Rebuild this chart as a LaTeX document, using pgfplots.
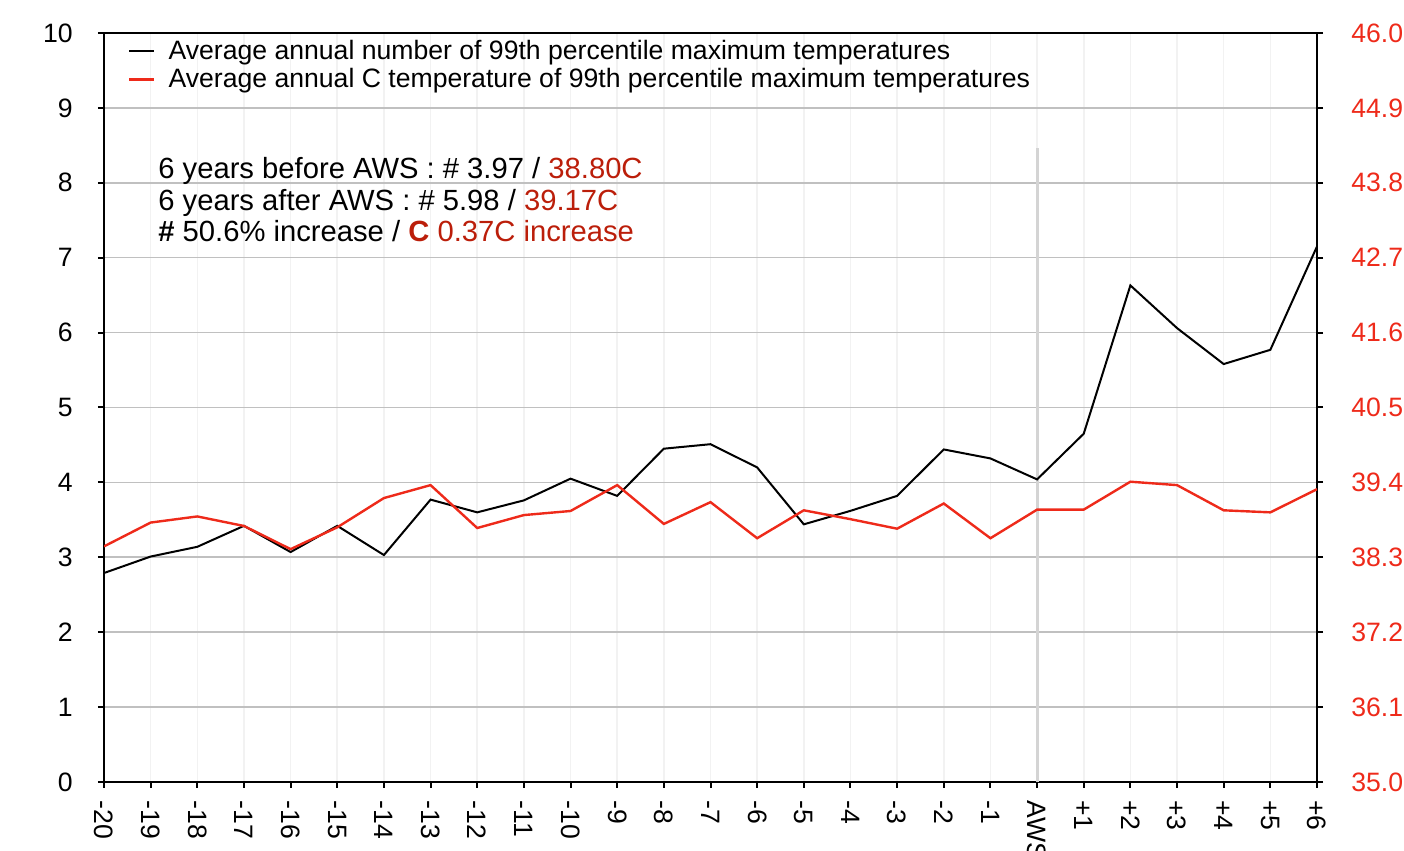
\documentclass[border=0pt]{standalone}
\usepackage{pgfplots}
\pgfplotsset{compat=1.18}
\usepackage{fontspec}
\setmainfont{Liberation Sans}
\definecolor{myred}{HTML}{EE2A1A}
\definecolor{darkred}{HTML}{BB1E0A}
\definecolor{gridgray}{HTML}{C0C0C0}
\definecolor{vgrid}{HTML}{F2F2F2}
\definecolor{awsgray}{HTML}{D4D4D4}
\pgfplotstableread{
x y
0 2.79
1 3.01
2 3.14
3 3.42
4 3.07
5 3.42
6 3.03
7 3.77
8 3.60
9 3.76
10 4.05
11 3.82
12 4.45
13 4.51
14 4.20
15 3.44
16 3.62
17 3.82
18 4.44
19 4.32
20 4.04
21 4.65
22 6.63
23 6.06
24 5.58
25 5.77
26 7.15
}\blackdata
\pgfplotstableread{
x y
0 38.46
1 38.81
2 38.90
3 38.76
4 38.42
5 38.74
6 39.17
7 39.36
8 38.73
9 38.92
10 38.98
11 39.36
12 38.79
13 39.11
14 38.58
15 38.99
16 38.86
17 38.72
18 39.09
19 38.58
20 39.00
21 39.00
22 39.41
23 39.36
24 38.99
25 38.96
26 39.30
}\reddata
\begin{document}
\begin{tikzpicture}
\begin{axis}[name=main,
  scale only axis, width=606.5pt, height=374.5pt,
  xmin=0, xmax=26, ymin=0, ymax=10,
  xtick={0,...,26},
  xticklabels={-20,-19,-18,-17,-16,-15,-14,-13,-12,-11,-10,-9,-8,-7,-6,-5,-4,-3,-2,-1,AWS,+1,+2,+3,+4,+5,+6},
  ytick={0,...,10},
  tick align=outside, xtick pos=bottom, ytick pos=left,
  major tick length=3pt,
  axis line style={line width=1pt},
  tick style={line width=1pt, black},
  xmajorgrids, ymajorgrids,
  x grid style={vgrid, line width=0.8pt},
  y grid style={gridgray, line width=0.8pt},
  /pgf/number format/assume math mode=true,
  xticklabel style={font=\fontsize{13.3}{15}\selectfont, rotate=-90, anchor=west, inner sep=1pt, xshift=5pt},
  yticklabel style={font=\fontsize{13.3}{15}\selectfont, inner sep=0pt, xshift=-12.5pt},
]
\addplot[awsgray, line width=1.5pt, forget plot] coordinates {(20,0) (20,8.46)};
\addplot[black, line width=1pt] table[x=x,y=y] {\blackdata};
\node[anchor=base west, font=\fontsize{14.6}{16}\selectfont, inner sep=0pt] at (rel axis cs:0.0445,0.806) {6 years before AWS : \# 3.97 / \textcolor{darkred}{38.80C}};
\node[anchor=base west, font=\fontsize{14.6}{16}\selectfont, inner sep=0pt] at (rel axis cs:0.0445,0.7635) {6 years after AWS : \# 5.98 / \textcolor{darkred}{39.17C}};
\node[anchor=base west, font=\fontsize{14.6}{16}\selectfont, inner sep=0pt] at (rel axis cs:0.0445,0.721) {\textbf{\#} 50.6\% increase / \textcolor{darkred}{\textbf{C} 0.37C increase}};
\end{axis}
\begin{axis}[
  scale only axis, width=606.5pt, height=374.5pt,
  xmin=0, xmax=26, ymin=35, ymax=46,
  axis x line=none, axis y line*=right,
  ytick={35,36.1,37.2,38.3,39.4,40.5,41.6,42.7,43.8,44.9,46},
  tick align=outside, major tick length=3pt,
  axis line style={line width=1pt},
  tick style={line width=1pt, black},
  /pgf/number format/.cd, fixed, fixed zerofill, precision=1, assume math mode=true,
  /pgfplots/.cd,
  yticklabel style={font=\fontsize{13.3}{15}\selectfont, text=myred, inner sep=0pt, xshift=14pt},
  legend style={at={(rel axis cs:0.018,0.999)}, anchor=north west, draw=none, fill=none,
    font=\fontsize{13.3}{14}\selectfont, inner sep=1pt, row sep=-1pt},
  legend cell align=left,
  legend image code/.code={\draw[#1] (0pt,0pt) -- (12.5pt,0pt); \path (17pt,0pt);},
]
\addlegendimage{black, line width=1pt}
\addlegendentry{Average annual number of 99th percentile maximum temperatures}
\addplot[myred, line width=1.2pt] table[x=x,y=y] {\reddata};
\addlegendentry{Average annual C temperature of 99th percentile maximum temperatures}
\end{axis}
\pgfresetboundingbox
\path[use as bounding box] ([shift={(-52pt,-34.5pt)}]main.south west) rectangle ([shift={(43.5pt,16.5pt)}]main.north east);
\end{tikzpicture}
\end{document}
